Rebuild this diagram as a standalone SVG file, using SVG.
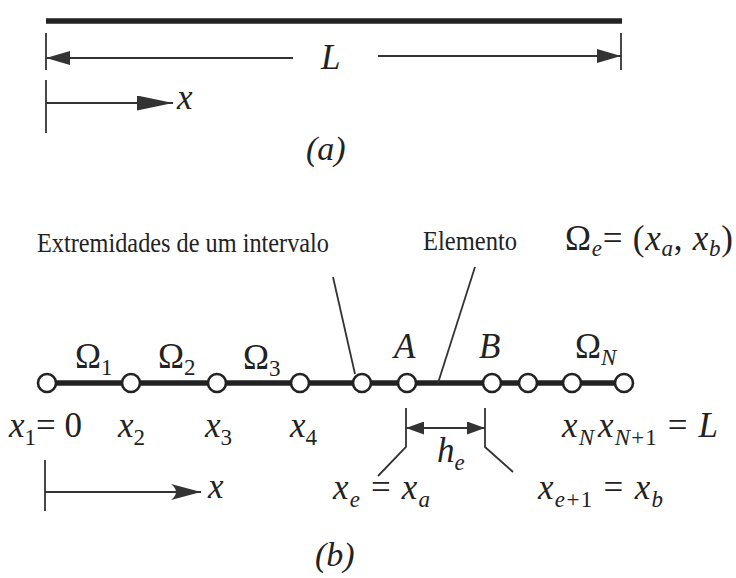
<svg xmlns="http://www.w3.org/2000/svg" width="736" height="578" viewBox="0 0 736 578">
<style>
.t{font-family:"Liberation Serif","Times New Roman",serif;fill:#222;}
.lab{font-size:27px;}
.m{font-size:35px;}
.big{font-size:34px;}
.i{font-style:italic;}
.s{font-size:23px;}
.ln{stroke:#333;stroke-width:1.8;fill:none;}
.bar{stroke:#222;stroke-width:5.5;fill:none;}
.nd{fill:#fff;stroke:#222;stroke-width:2.6;}
</style>
<defs>
<marker id="tA" markerUnits="userSpaceOnUse" markerWidth="24" markerHeight="14" refX="24" refY="7" orient="auto-start-reverse"><path d="M0,0 L24,7 L0,14 z" fill="#333"/></marker>
<marker id="tX" markerUnits="userSpaceOnUse" markerWidth="36" markerHeight="15" refX="36" refY="7.5" orient="auto"><path d="M0,0 L36,7.5 L0,15 z" fill="#333"/></marker>
<marker id="tH" markerUnits="userSpaceOnUse" markerWidth="18" markerHeight="13" refX="18" refY="6.5" orient="auto-start-reverse"><path d="M0,0 L18,6.5 L0,13 z" fill="#333"/></marker>
<marker id="tB" markerUnits="userSpaceOnUse" markerWidth="30" markerHeight="16" refX="30" refY="8" orient="auto"><path d="M0,0 L30,8 L0,16 Q10,8 0,0 z" fill="#333"/></marker>
</defs>

<!-- part (a) -->
<g id="barA"><line class="bar" x1="46" y1="21" x2="622" y2="21"/></g>
<g id="connectors">
<line class="ln" x1="46" y1="33" x2="46" y2="70"/>
<line class="ln" x1="621" y1="33" x2="621" y2="70"/>
<line class="ln" x1="293" y1="58" x2="46" y2="58" marker-end="url(#tA)"/>
<line class="ln" x1="378" y1="56" x2="621" y2="56" marker-end="url(#tA)"/>
<line class="ln" x1="46" y1="80" x2="46" y2="133"/>
<line class="ln" x1="46" y1="103" x2="173" y2="103" marker-end="url(#tX)"/>
<!-- part (b) -->
<line class="bar" x1="47" y1="383" x2="624" y2="383"/>
<line class="ln" x1="333" y1="277" x2="355" y2="374"/>
<line class="ln" x1="475" y1="267" x2="438" y2="383"/>
<polyline class="ln" points="406,408 406,447 378,476"/>
<polyline class="ln" points="485,408 485,447 513,472"/>
<line class="ln" x1="406" y1="428" x2="485" y2="428" marker-start="url(#tH)" marker-end="url(#tH)"/>
<line class="ln" x1="45" y1="460" x2="45" y2="511"/>
<line class="ln" x1="45" y1="492" x2="201" y2="492" marker-end="url(#tB)"/>
</g>

<text class="t m i" x="321" y="69">L</text>
<text class="t m i" x="177" y="109">x</text>
<text class="t big i" x="306" y="160">(a)</text>

<g id="nodes">
<g id="n1"><circle class="nd" cx="47" cy="383" r="9"/></g>
<g id="n2"><circle class="nd" cx="131" cy="383" r="9"/></g>
<g id="n3"><circle class="nd" cx="217" cy="383" r="9"/></g>
<g id="n4"><circle class="nd" cx="300" cy="383" r="9"/></g>
<g id="n5"><circle class="nd" cx="362" cy="383" r="9"/></g>
<g id="nA"><circle class="nd" cx="407" cy="383" r="9"/></g>
<g id="nB"><circle class="nd" cx="492" cy="383" r="9"/></g>
<g id="n8"><circle class="nd" cx="528" cy="383" r="9"/></g>
<g id="n9"><circle class="nd" cx="572" cy="383" r="9"/></g>
<g id="n10"><circle class="nd" cx="624" cy="383" r="9"/></g>
</g>

<g id="labels">
<text class="t lab" x="37" y="252" textLength="292" lengthAdjust="spacingAndGlyphs">Extremidades de um intervalo</text>
<text class="t lab" x="423" y="250" textLength="94" lengthAdjust="spacingAndGlyphs">Elemento</text>
<text class="t m" x="565" y="250" textLength="168">Ω<tspan class="s i" dy="6">e</tspan><tspan dy="-6">= (</tspan><tspan class="i">x</tspan><tspan class="s i" dy="6">a</tspan><tspan dy="-6">, </tspan><tspan class="i">x</tspan><tspan class="s i" dy="6">b</tspan><tspan dy="-6">)</tspan></text>

<text class="t m" x="75" y="368">Ω<tspan class="s" dy="7">1</tspan></text>
<text class="t m" x="158" y="368">Ω<tspan class="s" dy="7">2</tspan></text>
<text class="t m" x="243" y="369">Ω<tspan class="s" dy="7">3</tspan></text>
<text class="t m i" x="394" y="358">A</text>
<text class="t m i" x="479" y="358">B</text>
<text class="t m" x="575" y="358">Ω<tspan class="s i" dy="7">N</tspan></text>

<text class="t m" x="9" y="437" textLength="73"><tspan class="i">x</tspan><tspan class="s" dy="8">1</tspan><tspan dy="-8">= 0</tspan></text>
<text class="t m" x="118" y="437"><tspan class="i">x</tspan><tspan class="s" dy="8">2</tspan></text>
<text class="t m" x="205" y="437"><tspan class="i">x</tspan><tspan class="s" dy="8">3</tspan></text>
<text class="t m" x="290" y="437"><tspan class="i">x</tspan><tspan class="s" dy="8">4</tspan></text>
<text class="t m" x="562" y="437" textLength="156"><tspan class="i">x</tspan><tspan class="s i" dy="8">N</tspan><tspan class="i" dy="-8" dx="3">x</tspan><tspan class="s" dy="8"><tspan class="i">N</tspan>+1</tspan><tspan dy="-8"> = </tspan><tspan class="i">L</tspan></text>

<text class="t m" x="437" y="462"><tspan class="i">h</tspan><tspan class="s i" dy="8">e</tspan></text>
<text class="t m i" x="208" y="498">x</text>
<text class="t m" x="333" y="499" textLength="97"><tspan class="i">x</tspan><tspan class="s i" dy="8">e</tspan><tspan dy="-8"> = </tspan><tspan class="i">x</tspan><tspan class="s i" dy="8">a</tspan></text>
<text class="t m" x="538" y="499" textLength="125"><tspan class="i">x</tspan><tspan class="s" dy="8"><tspan class="i">e</tspan>+1</tspan><tspan dy="-8"> = </tspan><tspan class="i">x</tspan><tspan class="s i" dy="8">b</tspan></text>
<text class="t big i" x="315" y="566">(b)</text>
</g>
</svg>
